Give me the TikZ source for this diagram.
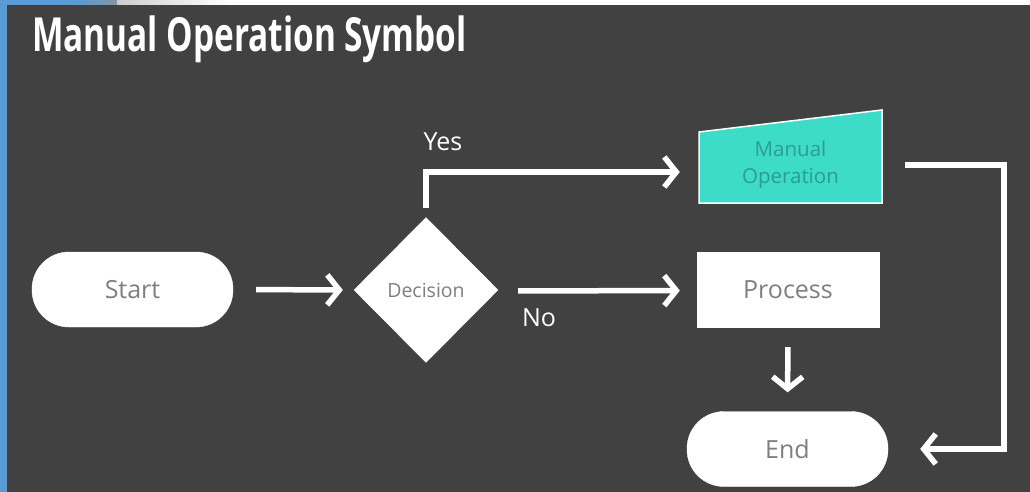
\documentclass[tikz,border=0pt]{standalone}
\usepackage{fontspec}
\setmainfont{Open Sans}
\usetikzlibrary{arrows.meta,shapes.geometric}
\definecolor{bg}{HTML}{414141}
\definecolor{bluebar}{HTML}{5B9BD5}
\definecolor{txtgray}{HTML}{7F7F7F}
\definecolor{turq}{HTML}{3DDCC8}
\definecolor{turqtxt}{HTML}{2A9E90}
\begin{document}
\begin{tikzpicture}[x=1pt,y=-1pt,
  term/.style={fill=white,draw=white,rounded corners=37pt,minimum width=201pt,minimum height=75pt,inner sep=0pt,text=txtgray,font=\fontsize{25}{30}\selectfont},
  procbox/.style={fill=white,draw=white,minimum width=182pt,minimum height=75pt,inner sep=0pt,text=txtgray,font=\fontsize{25}{30}\selectfont},
  decbox/.style={diamond,fill=white,draw=white,minimum width=144pt,minimum height=145pt,inner sep=0pt,text=txtgray,font=\fontsize{19.5}{23}\selectfont},
  lbl/.style={text=white,font=\fontsize{25}{30}\selectfont,inner sep=0pt},
  arr/.style={draw=white,line width=5.5pt,miter limit=10,-{Straight Barb[length=12pt,width=30pt]}},
]
\useasboundingbox (0,0) rectangle (1030,492);
\fill[bg] (0,0) rectangle (1030,492);
% top strip and left bar
\fill[white] (0,0) rectangle (1030,5);
\fill[bluebar] (0,0) rectangle (76,5);
\shade[left color=bluebar,right color={rgb,255:red,128;green,150;blue,168}] (76,0) rectangle (117,5);
\shade[left color={rgb,255:red,205;green,205;blue,205},right color=white] (117,0) rectangle (230,5);
\fill[bluebar] (0,0) rectangle (7,492);
% title
\node[anchor=base west,text=white,inner sep=0pt,font=\fontsize{47}{56}\selectfont\bfseries] (title) at (32,52) {\scalebox{0.71}[1]{Manual Operation Symbol}};
% manual operation shape
\filldraw[fill=turq,draw=white,line width=1.5pt] (699,132) -- (882,110) -- (882,203) -- (699,203) -- cycle;
% nodes
\node[term] (start) at (132.5,289.5) {Start};
\node[decbox] (dec) at (426,290) {Decision};
\node[procbox] (proc) at (788,289.5) {Process};
\node[term] (end) at (787.5,449) {End};
\node[minimum width=183pt,minimum height=60pt,inner sep=0pt,align=center,text=turqtxt,font=\fontsize{20.5}{27}\selectfont] (man) at (790.5,165) {Manual\\Operation};
% labels
\node[lbl] (yes) at (443,142) {Yes};
\node[lbl] (no) at (539,318) {No};
% connectors
\draw[arr,shorten <=23pt,shorten >=11pt] (start.east) -- (dec.west);
\draw[arr,shorten <=9pt,shorten >=19pt] (dec.north) |- ([yshift=-7pt]man.west);
\draw[arr,shorten <=20pt,shorten >=17pt] ([yshift=-1pt]dec.east) -- ([yshift=-1pt]proc.west);
\draw[arr,shorten <=20pt,shorten >=19pt] (proc.south) -- (end.north);
\draw[arr,shorten <=23pt,shorten >=32pt] (man.east) -- ++(122,0) |- (end.east);
\end{tikzpicture}
\end{document}
